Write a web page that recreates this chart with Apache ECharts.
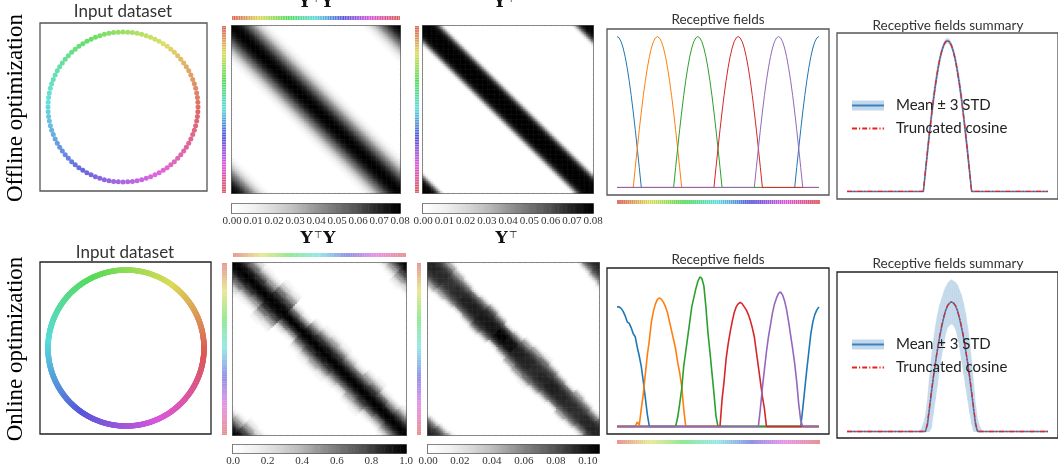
<!DOCTYPE html>
<html>
<head>
<meta charset="utf-8">
<script src="https://cdn.jsdelivr.net/npm/echarts@6/dist/echarts.min.js"></script>
<style>
  html, body { margin: 0; padding: 0; background: #fff; }
  #main { width: 1058px; height: 469px; }
</style>
</head>
<body>
<div id="main"></div>
<script>
// ---- data ----
const N = 100;
const sampleIdx = Array.from({ length: N }, (_, i) => i);          // sample index grid
const fieldX = Array.from({ length: 101 }, (_, i) => i);           // x grid of receptive field plots
const offlineAngles = sampleIdx.map(i => i * 3.6);                 // dataset points on the circle (deg)
const onlineAngles = Array.from({ length: 720 }, (_, i) => i * 0.5);

// offline receptive fields: one truncated cosine, value vs distance from centre
const fieldCentres = [0, 20, 40, 60, 80];
const offlineFieldProfile = [1.0, 0.991, 0.966, 0.924, 0.866, 0.793, 0.707, 0.609, 0.5, 0.383, 0.259, 0.131, 0.0];

// online receptive fields (start x, values)
const onlineBlueA = [0.80, 0.80, 0.79, 0.77, 0.74, 0.70, 0.69, 0.66, 0.62, 0.60, 0.53, 0.47, 0.40, 0.30, 0.19, 0.08, 0];
const onlineBlueB = [0, 0.12, 0.25, 0.38, 0.50, 0.62, 0.70, 0.75, 0.78, 0.80];
const onlineOrange = [0, 0.03, 0.01, 0.12, 0.22, 0.35, 0.48, 0.58, 0.70, 0.77, 0.82, 0.85, 0.86, 0.85, 0.83, 0.80, 0.76, 0.70, 0.64, 0.58, 0.52, 0.43, 0.36, 0.27, 0.12, 0];
const onlineGreen = [0, 0.06, 0.15, 0.25, 0.40, 0.50, 0.60, 0.70, 0.80, 0.86, 0.92, 0.97, 1.0, 0.99, 0.94, 0.80, 0.63, 0.50, 0.36, 0.22, 0.07, 0];
const onlineRed = [0, 0.18, 0.30, 0.45, 0.55, 0.63, 0.70, 0.76, 0.80, 0.82, 0.83, 0.82, 0.80, 0.78, 0.75, 0.71, 0.66, 0.60, 0.50, 0.40, 0.30, 0.20, 0.12, 0];
const onlinePurple = [0, 0.12, 0.26, 0.38, 0.50, 0.60, 0.68, 0.76, 0.82, 0.86, 0.89, 0.90, 0.88, 0.84, 0.78, 0.70, 0.61, 0.52, 0.42, 0.30, 0.15, 0.04, 0];
const onlineStarts = [0, 91, 9, 29, 51, 70];

// summary panels (3 STD spread, mean, truncated cosine)
const offlineSpread = [0.02, 0.04, 0.05, 0.05, 0.05, 0.05, 0.045, 0.04, 0.03, 0.022, 0.018, 0.016, 0.016, 0.016, 0.018, 0.022, 0.03, 0.04, 0.045, 0.05, 0.05, 0.05, 0.05, 0.04, 0.02]; // x 38..62
const onlineMean = [0, 0.05, 0.17, 0.30, 0.42, 0.53, 0.63, 0.72, 0.80, 0.87, 0.93, 0.97, 0.99, 1.0, 0.99, 0.97, 0.93, 0.87, 0.80, 0.72, 0.63, 0.53, 0.42, 0.30, 0.17, 0.05, 0]; // x 39..65
const onlineCosine = [0, 0.063, 0.188, 0.309, 0.426, 0.536, 0.637, 0.729, 0.809, 0.876, 0.930, 0.969, 0.992, 1.0, 0.992, 0.969, 0.930, 0.876, 0.809, 0.729, 0.637, 0.536, 0.426, 0.309, 0.188, 0.063, 0]; // x 39..65
const onlineSpread = [0, 0.02, 0.06, 0.12, 0.19, 0.24, 0.27, 0.28, 0.28, 0.27, 0.25, 0.22, 0.20, 0.18, 0.17, 0.17, 0.17, 0.17, 0.18, 0.20, 0.22, 0.25, 0.27, 0.28, 0.28, 0.27, 0.24, 0.20, 0.15, 0.09, 0.04, 0.01, 0]; // x 36..68

// similarity matrices: value vs circular distance from the diagonal
const offlineGramProfile = [0.080, 0.0797, 0.0789, 0.0776, 0.0757, 0.0733, 0.0704, 0.0670, 0.0631, 0.0588, 0.0541, 0.0492, 0.0441, 0.0389, 0.0337, 0.0286, 0.0237, 0.0191, 0.0148, 0.0110, 0.0077, 0.0049, 0.0027, 0.0011, 0];
const offlineYtProfile = [0.080, 0.080, 0.080, 0.080, 0.079, 0.078, 0.076, 0.072, 0.065, 0.054, 0.040, 0.025, 0.011, 0.003, 0];
const onlineGramProfile = [1.0, 0.99, 0.97, 0.94, 0.90, 0.85, 0.79, 0.72, 0.64, 0.56, 0.47, 0.38, 0.30, 0.22, 0.15, 0.09, 0.05, 0.02, 0];
const onlineGramWidth = [1.25, 1.2, 1.1, 1.05, 1.3, 1.25, 0.85, 0.8, 1.0, 1.1, 1.15, 1.1, 1.0, 0.95, 1.05, 1.1, 0.95, 0.9, 1.0, 1.05];
const onlineYtProfile = [1, 1, 1, 0.99, 0.97, 0.94, 0.90, 0.84, 0.76, 0.66, 0.53, 0.39, 0.25, 0.13, 0.05, 0];
const onlineYtWidth = [1.1, 1.15, 1.05, 1.0, 0.95, 1.0, 1.1, 1.0, 0.85, 0.9, 1.05, 1.15, 1.2, 1.1, 1.0, 0.95, 1.05, 1.0, 0.9, 1.0];
const onlineYtPeak = [0.094, 0.092, 0.090, 0.092, 0.095, 0.096, 0.098, 0.099, 0.106, 0.102, 0.096, 0.094, 0.092, 0.094, 0.096, 0.094, 0.092, 0.091, 0.093, 0.094];

// ---- helpers ----
const GREYS = ['#ffffff', '#f0f0f0', '#d9d9d9', '#bdbdbd', '#969696', '#737373', '#525252', '#252525', '#000000'];
const TAB = ['#1f77b4', '#ff7f0e', '#2ca02c', '#d62728', '#9467bd'];
const BAND = '#c3d8ea';
const hue = (deg, a) => `hsla(${((deg + 3.6) % 360).toFixed(1)}, 65%, 60%, ${a})`;
const circDist = (a, b, p) => { const d = Math.abs(a - b) % p; return Math.min(d, p - d); };
const signedOff = (i, j) => { let s = ((j - i) % N + N) % N; if (s > N / 2) s -= N; return s; };
const blockOf = (i, s, n) => Math.floor((((i + s / 2) % N + N) % N) / (N / n)) % n;

function piece(start, vals) {
  return fieldX.map(x => [x, (x >= start && x < start + vals.length) ? vals[x - start] : 0]);
}

const grids = [], xAxes = [], yAxes = [], series = [], visualMaps = [], graphics = [];
const polars = [], radiusAxes = [], angleAxes = [];
const hiddenAxis = { axisLine: { show: false }, axisTick: { show: false }, axisLabel: { show: false }, splitLine: { show: false } };

function addGrid(left, top, width, height, extra) {
  grids.push(Object.assign({ left, top, width, height, show: false }, extra || {}));
  return grids.length - 1;
}
function addX(o) { xAxes.push(o); return xAxes.length - 1; }
function addY(o) { yAxes.push(o); return yAxes.length - 1; }
function addS(o) { series.push(o); return series.length - 1; }

function heatPanel(r, data, cb, max, interval, dec) {
  const g = addGrid(r[0], r[1], r[2], r[3], { show: true, borderColor: '#555', borderWidth: 2 });
  const xi = addX({ gridIndex: g, type: 'category', data: sampleIdx, show: false });
  const yi = addY({ gridIndex: g, type: 'category', data: sampleIdx, inverse: true, show: false });
  const s = addS({ type: 'heatmap', xAxisIndex: xi, yAxisIndex: yi, data, progressive: 0, silent: true });
  const cg = addGrid(cb[0], cb[1], cb[2], cb[3], { show: true, borderColor: '#222', borderWidth: 1.6 });
  const ramp = Array.from({ length: 64 }, (_, k) => k);
  const cx = addX({ gridIndex: cg, type: 'category', data: ramp, show: false, position: 'top' });
  addX({
    gridIndex: cg, type: 'value', min: 0, max, interval, position: 'bottom', ...hiddenAxis,
    axisLabel: { show: true, margin: 3, fontFamily: 'Liberation Serif', fontSize: 11, color: '#333', showMinLabel: true,
      formatter: v => (Math.abs(v / interval - Math.round(v / interval)) > 0.01) ? '' : v.toFixed(dec) }
  });
  const cy = addY({ gridIndex: cg, type: 'category', data: ['c'], show: false });
  const cs = addS({ type: 'heatmap', xAxisIndex: cx, yAxisIndex: cy, data: ramp.map(k => [k, 0, max * k / 63]), progressive: 0, silent: true });
  visualMaps.push({ type: 'continuous', show: false, min: 0, max, dimension: 2, seriesIndex: [s, cs], inRange: { color: GREYS } });
}

function strip(r, vertical, alpha, gap) {
  const g = addGrid(r[0], r[1], r[2], r[3]);
  const cat = { gridIndex: g, type: 'category', data: sampleIdx, show: false };
  const val = { gridIndex: g, type: 'value', min: 0, max: 1, show: false };
  const xi = addX(vertical ? val : cat);
  const yi = addY(vertical ? Object.assign({ inverse: true }, cat) : val);
  addS({ type: 'bar', xAxisIndex: xi, yAxisIndex: yi, silent: true, barCategoryGap: gap,
    data: sampleIdx.map(i => ({ value: 1, itemStyle: { color: hue(i * 3.6, alpha) } })) });
}

function linePanel(r, ymin, ymax, border) {
  const g = addGrid(r[0], r[1], r[2], r[3], { show: true, borderColor: border, borderWidth: 1.3 });
  const xi = addX({ gridIndex: g, type: 'value', min: -5, max: 105, show: false });
  const yi = addY({ gridIndex: g, type: 'value', min: ymin, max: ymax, show: false });
  return [xi, yi];
}

function circlePanel(r, centre, radius, angles, size, opacity, border) {
  const g = addGrid(r[0], r[1], r[2], r[3], { show: true, borderColor: border, borderWidth: 1.3 });
  addX({ gridIndex: g, type: 'value', show: false });
  addY({ gridIndex: g, type: 'value', show: false });
  const p = polars.length;
  polars.push({ center: centre, radius });
  radiusAxes.push({ polarIndex: p, min: 0, max: 1, show: false });
  angleAxes.push({ polarIndex: p, type: 'value', min: 0, max: 360, startAngle: 0, clockwise: false, show: false });
  addS({ type: 'scatter', coordinateSystem: 'polar', polarIndex: p, symbolSize: size, silent: true,
    data: angles.map(a => [1, a]),
    itemStyle: { opacity, color: pr => hue(pr.value[1], 1) } });
}

function summaryPanel(r, ymax, border, meanStart, mean, cosStart, cos, spreadStart, spread) {
  const [sx, sy] = linePanel(r, -0.05, ymax, border);
  const meanAt = x => (x >= meanStart && x < meanStart + mean.length) ? mean[x - meanStart] : 0;
  const spAt = x => (x >= spreadStart && x < spreadStart + spread.length) ? spread[x - spreadStart] : 0;
  const lower = fieldX.map(x => Math.max(0, meanAt(x) - spAt(x)));
  const upper = fieldX.map(x => meanAt(x) + spAt(x));
  addS({ type: 'custom', name: 'Mean ± 3 STD', xAxisIndex: sx, yAxisIndex: sy, silent: true,
    itemStyle: { color: BAND },
    data: fieldX.slice(0, -1).map((x, i) => [x, lower[i], upper[i], x + 1, lower[i + 1], upper[i + 1]]),
    encode: { x: [0, 3], y: [1, 2, 4, 5] },
    renderItem: (params, api) => {
      if (api.value(2) === 0 && api.value(5) === 0) return null;
      const pts = [
        api.coord([api.value(0), api.value(1)]), api.coord([api.value(0), api.value(2)]),
        api.coord([api.value(3), api.value(5)]), api.coord([api.value(3), api.value(4)])
      ];
      return { type: 'polygon', shape: { points: pts }, style: { fill: BAND, stroke: BAND, lineWidth: 0.5 } };
    } });
  addS({ type: 'line', name: 'Mean', xAxisIndex: sx, yAxisIndex: sy, symbol: 'none', silent: true,
    lineStyle: { width: 1.5, color: '#3c82c0' }, itemStyle: { color: '#3c82c0' },
    data: fieldX.map(x => [x, meanAt(x)]) });
  addS({ type: 'line', name: 'Truncated cosine', xAxisIndex: sx, yAxisIndex: sy, symbol: 'none', silent: true,
    lineStyle: { width: 1.3, color: '#e8231f', type: [5, 2, 1.2, 2] }, itemStyle: { color: '#e8231f' },
    data: fieldX.map(x => [x, (x >= cosStart && x < cosStart + cos.length) ? cos[x - cosStart] : 0]) });
}

// ---- row 1: offline ----
circlePanel([40, 23, 167, 168], [123, 107], 75, offlineAngles, 5, 0.9, '#555');
strip([232, 16, 168, 4], false, 1, '15%');
strip([222, 26, 4, 167], true, 1, '15%');
heatPanel([232, 26, 168, 167],
  sampleIdx.flatMap(i => sampleIdx.map(j => [j, i, offlineGramProfile[circDist(i, j, N)] || 0])),
  [232, 204, 168, 9], 0.08, 0.01, 2);
strip([415, 26, 4, 167], true, 1, '15%');
heatPanel([423, 26, 170, 167],
  sampleIdx.flatMap(i => sampleIdx.map(j => [j, i, offlineYtProfile[circDist(i, j, N)] || 0])),
  [423, 204, 170, 9], 0.08, 0.01, 2);

let [fx, fy] = linePanel([607, 29, 222, 166], -0.05, 1.05, '#555');
fieldCentres.forEach((c, k) => addS({
  type: 'line', xAxisIndex: fx, yAxisIndex: fy, symbol: 'none', silent: true,
  lineStyle: { width: 1, color: TAB[k] }, itemStyle: { color: TAB[k] },
  data: fieldX.map(x => [x, offlineFieldProfile[circDist(x, c, 100)] || 0])
}));
strip([617, 200, 203, 4], false, 1, '15%');

const offlineMean = offlineFieldProfile.slice().reverse().concat(offlineFieldProfile.slice(1)); // x 38..62
summaryPanel([837, 33, 222, 166], 1.05, '#555', 38, offlineMean, 38, offlineMean, 38, offlineSpread);

// ---- row 2: online ----
circlePanel([40, 262, 171, 172], [126, 348], 78, onlineAngles, 5.5, 1, '#222');
strip([233, 253, 173, 4], false, 0.65, '0%');
strip([222, 263, 5, 172], true, 0.65, '0%');
heatPanel([233, 263, 173, 172],
  sampleIdx.flatMap(i => sampleIdx.map(j => {
    const s = signedOff(i, j), b = blockOf(i, s, onlineGramWidth.length);
    return [j, i, onlineGramProfile[Math.round(Math.abs(s) / onlineGramWidth[b])] || 0];
  })),
  [233, 445, 173, 8], 1.0, 0.2, 1);
strip([417, 263, 4, 172], true, 0.65, '0%');
heatPanel([428, 263, 171, 172],
  sampleIdx.flatMap(i => sampleIdx.map(j => {
    const s = signedOff(i, j), b = blockOf(i, s, onlineYtWidth.length);
    return [j, i, onlineYtPeak[b] * (onlineYtProfile[Math.round(Math.abs(s) / onlineYtWidth[b])] || 0)];
  })),
  [428, 445, 171, 8], 0.107, 0.02, 2);

[fx, fy] = linePanel([607, 268, 222, 166], -0.05, 1.06, '#222');
[onlineBlueA, onlineBlueB, onlineOrange, onlineGreen, onlineRed, onlinePurple].forEach((vals, k) => {
  const col = TAB[Math.max(0, k - 1)];
  addS({ type: 'line', xAxisIndex: fx, yAxisIndex: fy, symbol: 'none', silent: true,
    lineStyle: { width: 1.6, color: col }, itemStyle: { color: col },
    data: piece(onlineStarts[k], vals) });
});
strip([617, 440, 203, 4], false, 0.65, '0%');

summaryPanel([837, 272, 222, 166], 1.23, '#222', 39, onlineMean, 39, onlineCosine, 36, onlineSpread);

// ---- texts ----
function text(t, x, y, font, fill, extra) {
  graphics.push(Object.assign({ type: 'text', x, y, silent: true,
    style: { text: t, font, fill: fill || '#333', align: 'center', verticalAlign: 'middle', textAlign: 'center', textVerticalAlign: 'middle' } }, extra || {}));
}
function matTitle(withRight, x, y) {
  graphics.push({ type: 'text', x, y, silent: true, style: {
    text: withRight ? '{y|Y}{s|⊤}{y|Y}' : '{y|Y}{s|⊤}',
    align: 'center', verticalAlign: 'middle', textAlign: 'center', textVerticalAlign: 'middle',
    rich: { y: { fontFamily: 'DejaVu Serif', fontWeight: 'bold', fontSize: 17, fill: '#111' },
            s: { fontFamily: 'DejaVu Sans', fontSize: 10, fill: '#111', verticalAlign: 'top', padding: [0, 1, 0, 1] } } } });
}
text('Offline optimization', 16, 108, '23px "Liberation Serif"', '#000', { rotation: Math.PI / 2 });
text('Online optimization', 16, 349, '23px "Liberation Serif"', '#000', { rotation: Math.PI / 2 });
text('Input dataset', 123, 12, '17px Lato');
text('Input dataset', 125, 253, '17px Lato');
matTitle(true, 316, 3); matTitle(false, 505, 3);
matTitle(true, 318, 239); matTitle(false, 507, 239);
text('Receptive fields', 718, 20, '13.5px Lato');
text('Receptive fields', 718, 260, '13.5px Lato');
text('Receptive fields summary', 948, 26, '13.5px Lato');
text('Receptive fields summary', 948, 264, '13.5px Lato');

function legends(top) {
  const ts = { fontFamily: 'Lato', fontSize: 15, color: '#222', padding: [0, 0, 0, 7] };
  return [
    { left: 851, top: top, orient: 'vertical', itemWidth: 32, itemHeight: 10, itemGap: 8, padding: 0, selectedMode: false,
      textStyle: ts,
      data: [{ name: 'Mean ± 3 STD', icon: 'rect', itemStyle: { color: BAND } },
             { name: 'Truncated cosine', itemStyle: { opacity: 0 } }] },
    { left: 851, top: top, orient: 'vertical', itemWidth: 32, itemHeight: 10, padding: 0, selectedMode: false,
      textStyle: ts, formatter: () => ' ', data: [{ name: 'Mean', itemStyle: { opacity: 0 } }] }
  ];
}

const chart = echarts.init(document.getElementById('main'), null, { renderer: 'canvas' });
chart.setOption({
  animation: false,
  backgroundColor: '#fff',
  grid: grids, xAxis: xAxes, yAxis: yAxes,
  polar: polars, radiusAxis: radiusAxes, angleAxis: angleAxes,
  visualMap: visualMaps,
  legend: legends(98).concat(legends(337)),
  graphic: { elements: graphics },
  series
});
</script>
</body>
</html>
